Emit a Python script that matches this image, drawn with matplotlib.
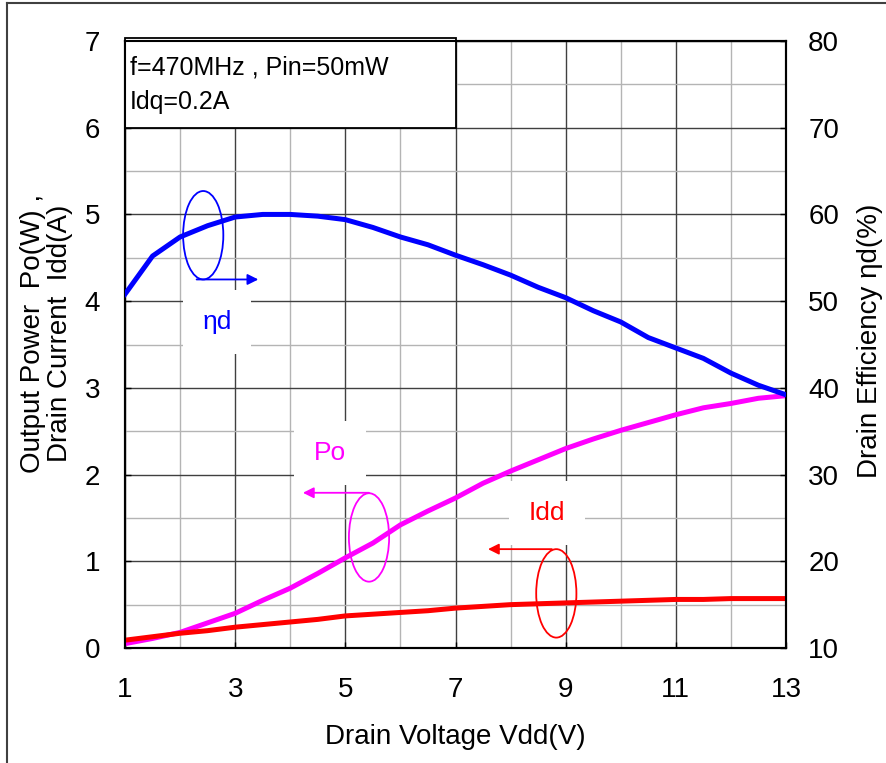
import numpy as np
import matplotlib
matplotlib.use('Agg')
import matplotlib.pyplot as plt
from matplotlib.patches import Ellipse, Rectangle
from matplotlib.lines import Line2D

plt.rcParams['font.family'] = ['Liberation Sans', 'DejaVu Sans']

# drain voltage (V)
vdd = [1, 1.5, 2, 2.5, 3, 3.5, 4, 4.5, 5, 5.5, 6, 6.5, 7, 7.5, 8, 8.5, 9,
       9.5, 10, 10.5, 11, 11.5, 12, 12.5, 13]
# output power (W)
po = [0.05, 0.11, 0.18, 0.29, 0.40, 0.55, 0.69, 0.86, 1.04, 1.21, 1.42, 1.58,
      1.73, 1.90, 2.04, 2.17, 2.30, 2.41, 2.51, 2.60, 2.69, 2.77, 2.82, 2.88, 2.91]
# drain current (A)
idd = [0.09, 0.13, 0.17, 0.20, 0.24, 0.27, 0.30, 0.33, 0.37, 0.39, 0.41, 0.43,
       0.46, 0.48, 0.50, 0.51, 0.52, 0.53, 0.54, 0.55, 0.56, 0.56, 0.57, 0.57, 0.57]
# drain efficiency (%)
eta = [50.8, 55.2, 57.4, 58.7, 59.7, 60.0, 60.0, 59.8, 59.4, 58.5, 57.4, 56.5,
       55.3, 54.2, 53.0, 51.6, 50.4, 48.9, 47.6, 45.8, 44.6, 43.4, 41.7, 40.3, 39.2]

W, H = 886, 763
fig = plt.figure(figsize=(W / 100, H / 100), dpi=100)
ax = fig.add_axes([125 / W, 1 - 648 / H, 661 / W, 607 / H])
ax2 = ax.twinx()

ax.set_xlim(1, 13)
ax.set_ylim(0, 7)
ax2.set_ylim(10, 80)

ax.set_xticks(np.arange(1, 14, 2))
ax.set_xticks(np.arange(2, 13, 2), minor=True)
ax.set_yticks(np.arange(0, 8, 1))
ax.set_yticks(np.arange(0.5, 7, 1), minor=True)
ax2.set_yticks(np.arange(10, 90, 10))

ax.grid(which='major', color='#404040', lw=1.0)
ax.grid(which='minor', color='#b4b4b4', lw=1.0)
ax.set_axisbelow(True)

ax.tick_params(which='major', direction='in', length=4.5, width=1, labelsize=20)
ax.tick_params(axis='x', which='major', pad=21)
ax.tick_params(axis='y', which='major', pad=18)
ax.tick_params(which='minor', length=0)
ax2.tick_params(direction='in', length=4.5, width=1, labelsize=20, pad=16)
for a in (ax, ax2):
    for s in a.spines.values():
        s.set_linewidth(1.5)

ax.plot(vdd, po, color='#ff00ff', lw=3.6, zorder=3)
ax.plot(vdd, idd, color='#ff0000', lw=3.6, zorder=3)
ax2.plot(vdd, eta, color='#0000ff', lw=3.6, zorder=3)

# info box
ax.add_patch(Rectangle((1, 6.0), 6, 1.03, facecolor='white', edgecolor='black',
                       lw=1.3, zorder=5, clip_on=False))
ax.text(1.09, 6.70, 'f=470MHz , Pin=50mW', fontsize=18, va='center', zorder=6)
ax.text(1.09, 6.30, 'Idq=0.2A', fontsize=18, va='center', zorder=6)

# curve markers
marks = [
    ('ηd', '#0000ff', (2.67, 3.76), (2.42, 4.76), (2.30, 4.25), (3.42, 4.25)),
    ('Po', '#ff00ff', (4.72, 2.25), (5.43, 1.275), (5.43, 1.79), (4.23, 1.79)),
    ('Idd', '#ff0000', (8.66, 1.56), (8.83, 0.63), (8.75, 1.14), (7.59, 1.14)),
]
for label, col, tpos, epos, a0, a1 in marks:
    ax.text(tpos[0], tpos[1], label, color=col, fontsize=19, ha='center',
            va='center', zorder=6,
            bbox=dict(boxstyle='square,pad=0.75', fc='white', ec='none'))
    ax.add_patch(Ellipse(epos, 0.73, 1.02, fill=False, edgecolor=col,
                         lw=1.3, zorder=6))
    ax.annotate('', xy=a1, xytext=a0, zorder=6,
                arrowprops=dict(arrowstyle='-|>', color=col, lw=1.3,
                                mutation_scale=16, shrinkA=0, shrinkB=0))

# axis titles
fig.text(455.5 / W, 1 - 737 / H, 'Drain Voltage Vdd(V)', fontsize=20,
         ha='center', va='center')
fig.text(33 / W, 1 - 333 / H, 'Output Power  Po(W) ,', fontsize=20,
         rotation=90, ha='center', va='center')
fig.text(60 / W, 1 - 333 / H, 'Drain Current  Idd(A)', fontsize=20,
         rotation=90, ha='center', va='center')
fig.text(870 / W, 1 - 341 / H, 'Drain Efficiency ηd(%)', fontsize=20,
         rotation=90, ha='center', va='center')

# outer chart frame
fig.add_artist(Line2D([7 / W, 7 / W], [0, 1 - 3 / H], color='#404040', lw=1.5))
fig.add_artist(Line2D([7 / W, 1], [1 - 3 / H, 1 - 3 / H], color='#404040', lw=1.5))

fig.savefig('out.png', dpi=100)
